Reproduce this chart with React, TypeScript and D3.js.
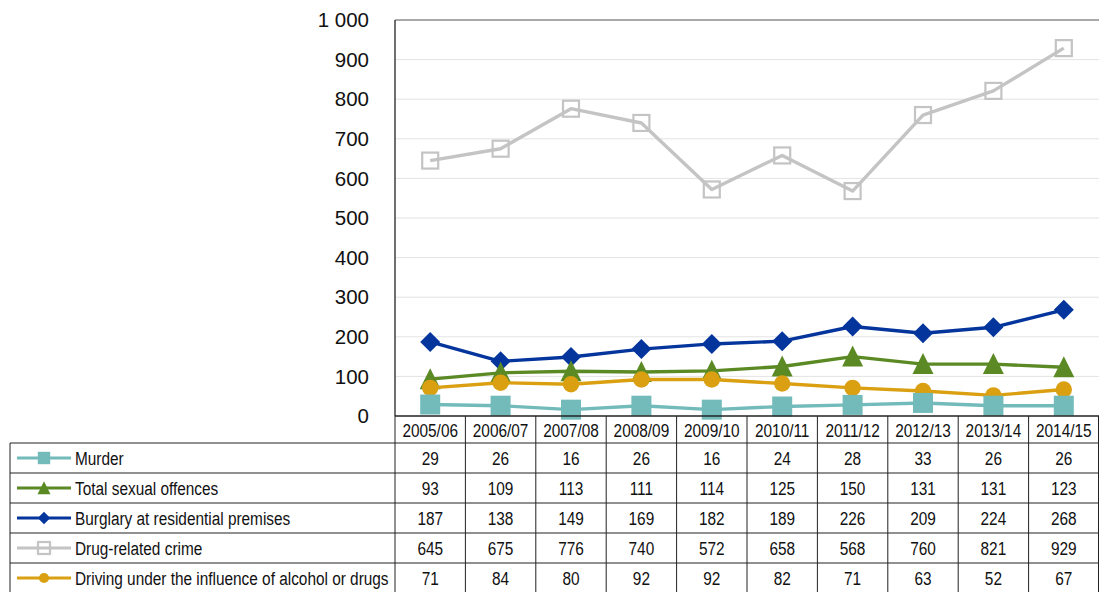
import React, { useEffect, useRef } from "react";
import * as d3 from "d3";

const years = ["2005/06", "2006/07", "2007/08", "2008/09", "2009/10", "2010/11", "2011/12", "2012/13", "2013/14", "2014/15"];
const murder = [29, 26, 16, 26, 16, 24, 28, 33, 26, 26];
const sexual = [93, 109, 113, 111, 114, 125, 150, 131, 131, 123];
const burglary = [187, 138, 149, 169, 182, 189, 226, 209, 224, 268];
const drugs = [645, 675, 776, 740, 572, 658, 568, 760, 821, 929];
const driving = [71, 84, 80, 92, 92, 82, 71, 63, 52, 67];
const yTicks = [0, 100, 200, 300, 400, 500, 600, 700, 800, 900, 1000];

const series = [
  { name: "Murder", values: murder, color: "#73BBBB", marker: "square" },
  { name: "Total sexual offences", values: sexual, color: "#5B8A25", marker: "triangle" },
  { name: "Burglary at residential premises", values: burglary, color: "#04359C", marker: "diamond" },
  { name: "Drug-related crime", values: drugs, color: "#C4C4C4", marker: "open" },
  { name: "Driving under the influence of alcohol or drugs", values: driving, color: "#DAA012", marker: "circle" },
];

const sans = "'Liberation Sans', Arial, sans-serif";
const squeeze = 0.81; // mimic a narrow face

const App: React.FC = () => {
  const ref = useRef<SVGSVGElement>(null);

  useEffect(() => {
    if (!ref.current) return;
    const svg = d3.select(ref.current);
    svg.selectAll("*").remove();

    const left = 395, right = 1099, top = 20, bottom = 416;
    const rowH = 30, tableTop = 443, tableLeft = 10;

    const x = d3.scaleBand().domain(years).range([left, right]);
    const y = d3.scaleLinear().domain([0, 1000]).range([bottom, top]);

    // narrow-looking text helper
    const narrowText = (g: any, px: number, py: number, txt: string, anchor = "start") =>
      g.append("text")
        .attr("transform", `translate(${px},${py}) scale(${squeeze},1)`)
        .attr("dy", "0.35em")
        .attr("text-anchor", anchor)
        .style("font-family", sans)
        .style("font-size", "19px")
        .style("fill", "#111")
        .text(txt);

    // gridlines
    svg.append("g")
      .selectAll("line")
      .data(yTicks.slice(1, -1))
      .enter()
      .append("line")
      .attr("x1", left).attr("x2", right)
      .attr("y1", (d) => y(d)).attr("y2", (d) => y(d))
      .attr("stroke", "#E3E3E3").attr("stroke-width", 1);

    // top border + left axis
    svg.append("line").attr("x1", left).attr("x2", right).attr("y1", y(1000)).attr("y2", y(1000))
      .attr("stroke", "#555").attr("stroke-width", 1);
    svg.append("line").attr("x1", left).attr("x2", left).attr("y1", top).attr("y2", bottom)
      .attr("stroke", "#222").attr("stroke-width", 1.3);

    // y labels
    svg.append("g")
      .selectAll("text")
      .data(yTicks)
      .enter()
      .append("text")
      .attr("x", 369)
      .attr("y", (d) => y(d))
      .attr("dy", "0.35em")
      .attr("text-anchor", "end")
      .style("font-family", sans)
      .style("font-size", "20.5px")
      .style("fill", "#111")
      .text((d) => d3.format(",")(d).replace(",", " "));

    const cx = (i: number) => (x(years[i]) || 0) + x.bandwidth() / 2;

    const drawMarker = (g: any, type: string, color: string, px: number, py: number, scale = 1) => {
      if (type === "square") {
        const s = 20 * scale;
        g.append("rect").attr("x", px - s / 2).attr("y", py - s / 2).attr("width", s).attr("height", s).attr("fill", color);
      } else if (type === "triangle") {
        const s = 10.5 * scale;
        g.append("path").attr("d", `M${px},${py - s * 1.05}L${px + s},${py + s * 0.95}L${px - s},${py + s * 0.95}Z`).attr("fill", color);
      } else if (type === "diamond") {
        const s = 10 * scale;
        g.append("path").attr("d", `M${px},${py - s}L${px + s},${py}L${px},${py + s}L${px - s},${py}Z`).attr("fill", color);
      } else if (type === "open") {
        const s = 16 * scale;
        g.append("rect").attr("x", px - s / 2).attr("y", py - s / 2).attr("width", s).attr("height", s)
          .attr("fill", "none").attr("stroke", color).attr("stroke-width", 2.2);
      } else if (type === "circle") {
        g.append("circle").attr("cx", px).attr("cy", py).attr("r", 8.2 * scale).attr("fill", color);
      }
    };

    const line = d3.line<number>().x((_, i) => cx(i)).y((d) => y(d));

    // draw order: drugs, burglary, sexual, driving, murder
    const order = [3, 2, 1, 4, 0];
    order.forEach((si) => {
      const s = series[si];
      const g = svg.append("g");
      g.append("path").attr("d", line(s.values) || "").attr("fill", "none")
        .attr("stroke", s.color).attr("stroke-width", 3.4).attr("stroke-linejoin", "round");
      s.values.forEach((v, i) => drawMarker(g, s.marker, s.color, cx(i), y(v)));
    });

    // table
    const tg = svg.append("g");
    const tableBottom = tableTop + rowH * series.length;
    years.forEach((yr, i) => {
      const x0 = x(yr) || 0;
      tg.append("line").attr("x1", x0).attr("x2", x0).attr("y1", bottom).attr("y2", tableBottom).attr("stroke", "#222");
      narrowText(tg, cx(i), (bottom + tableTop) / 2 + 1, yr, "middle");
    });
    tg.append("line").attr("x1", right - 0.5).attr("x2", right - 0.5).attr("y1", bottom).attr("y2", tableBottom).attr("stroke", "#222");
    tg.append("line").attr("x1", left).attr("x2", right).attr("y1", bottom).attr("y2", bottom).attr("stroke", "#222").attr("stroke-width", 1.3);
    tg.append("line").attr("x1", tableLeft).attr("x2", tableLeft).attr("y1", tableTop).attr("y2", tableBottom).attr("stroke", "#222");
    for (let r = 0; r <= series.length; r++) {
      const yy = tableTop + r * rowH;
      tg.append("line").attr("x1", tableLeft).attr("x2", right).attr("y1", yy).attr("y2", yy).attr("stroke", "#222");
    }
    series.forEach((s, r) => {
      const cy = tableTop + r * rowH + rowH / 2;
      tg.append("line").attr("x1", 17).attr("x2", 71).attr("y1", cy).attr("y2", cy).attr("stroke", s.color).attr("stroke-width", 3);
      drawMarker(tg, s.marker, s.color, 44, cy, s.marker === "open" ? 0.75 : 0.62);
      narrowText(tg, 75, cy, s.name);
      s.values.forEach((v, i) => narrowText(tg, cx(i), cy, String(v), "middle"));
    });
  }, []);

  return (
    <div style={{ position: "absolute", left: 0, top: 0 }}>
      <svg ref={ref} width={1099} height={592} style={{ display: "block", background: "#fff" }} />
    </div>
  );
};

export default App;
